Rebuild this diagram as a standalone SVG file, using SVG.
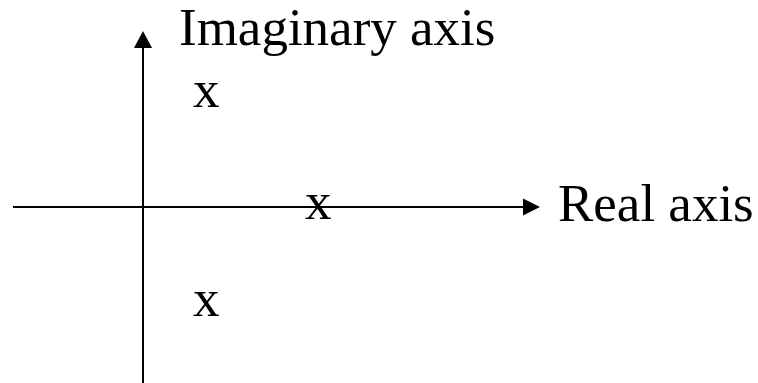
<svg xmlns="http://www.w3.org/2000/svg" width="758" height="383" viewBox="0 0 758 383">
<style>
.ax{stroke:#000;stroke-width:2;fill:none}
.t{font-family:"Liberation Serif","Times New Roman",serif;font-size:53px;fill:#000}
</style>
<rect width="758" height="383" fill="#fff"/>
<g id="connectors">
<line class="ax" x1="143" y1="383" x2="143" y2="46"/>
<polygon points="143,31 134,48 152,48" fill="#000"/>
<line class="ax" x1="13" y1="207" x2="525" y2="207"/>
<polygon points="540,207 523,198.5 523,215.5" fill="#000"/>
</g>
<g id="imag-label"><text class="t" x="179" y="45">Imaginary axis</text></g>
<g id="real-label"><text class="t" x="558" y="221">Real axis</text></g>
<g id="pole1"><text class="t" x="193" y="107">x</text></g>
<g id="pole2"><text class="t" x="305" y="219">x</text></g>
<g id="pole3"><text class="t" x="193" y="316">x</text></g>
</svg>
